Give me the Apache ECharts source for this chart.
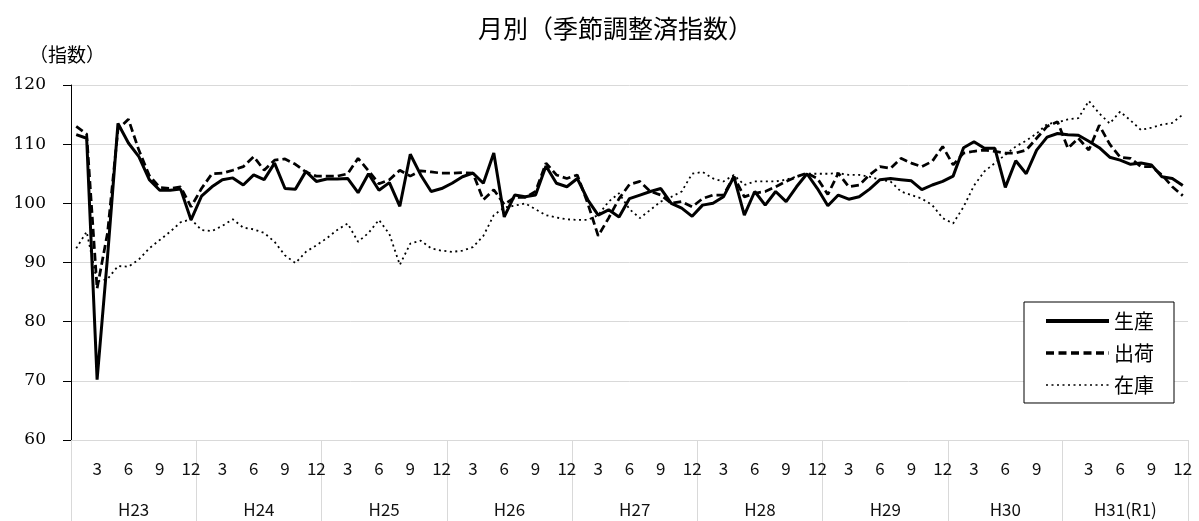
<!DOCTYPE html>
<html>
<head>
<meta charset="utf-8">
<script src="https://cdn.jsdelivr.net/npm/echarts@6/dist/echarts.min.js"></script>
<style>html,body{margin:0;padding:0;background:#fff;}#c{width:1199px;height:521px;}</style>
</head>
<body>
<div id="c"></div>
<script>
const years = ['H23','H24','H25','H26','H27','H28','H29','H30','H31(R1)'];
const monthsInYear = [12,12,12,12,12,12,12,11,12];
const labeledMonths = [3,6,9,12];
const yTicks = [60,70,80,90,100,110,120];
const seriesNames = ['生産','出荷','在庫'];

const production = [
  111.6,111.0,70.2,91.0,113.5,110.2,107.9,104.0,102.2,102.2,102.4,97.2,
  101.2,102.8,104.0,104.3,103.1,104.8,104.0,106.8,102.5,102.4,105.4,103.7,
  104.1,104.1,104.2,101.8,105.0,102.2,103.5,99.5,108.3,104.8,102.0,102.5,
  103.4,104.5,105.1,103.4,108.5,97.7,101.4,101.1,101.4,106.3,103.4,102.8,
  104.2,100.6,98.0,98.9,97.7,100.8,101.4,102.0,102.5,100.0,99.2,97.8,
  99.7,100.0,101.1,104.5,98.0,102.0,99.7,102.0,100.3,102.8,105.0,102.5,
  99.6,101.4,100.7,101.1,102.4,104.0,104.2,104.0,103.8,102.3,103.1,103.7,
  104.6,109.4,110.4,109.3,109.3,102.7,107.2,105.0,109.0,111.2,111.8,
  111.6,111.5,110.5,109.4,107.8,107.3,106.6,106.8,106.5,104.5,104.2,103.0
];
const shipments = [
  113.0,111.7,85.6,95.0,112.5,114.2,109.0,104.7,102.7,102.5,102.8,99.4,
  102.5,105.0,105.1,105.6,106.2,107.9,105.6,107.3,107.5,106.6,105.3,104.6,
  104.6,104.6,105.0,107.6,105.5,103.3,104.0,105.6,104.6,105.5,105.3,105.1,
  105.1,105.2,105.1,100.6,102.3,99.8,101.0,101.0,102.0,106.8,104.8,104.2,
  104.8,100.0,94.5,97.5,100.8,103.2,103.7,102.0,101.4,100.0,100.3,99.4,
  100.8,101.4,101.4,104.5,101.1,101.7,102.0,102.8,103.7,104.5,105.1,104.2,
  101.5,105.1,102.8,103.1,104.8,106.2,105.9,107.6,106.8,106.2,107.1,109.6,
  106.5,108.5,108.8,109.0,108.8,108.5,108.5,109.0,111.0,113.0,113.8,
  109.3,111.0,109.0,113.2,110.0,107.8,107.6,106.2,106.2,104.8,102.8,101.3
];
const inventory = [
  92.4,95.2,86.8,87.2,89.4,89.3,90.5,92.4,93.8,95.2,96.8,97.3,
  95.5,95.3,96.2,97.3,95.9,95.6,95.0,93.5,91.2,89.9,91.8,92.9,
  94.1,95.5,96.6,93.5,95.0,97.2,94.8,89.6,93.2,93.7,92.4,92.0,
  91.8,92.0,92.6,94.5,98.0,99.3,99.6,100.0,99.0,98.0,97.6,97.3,
  97.2,97.2,98.0,100.3,101.7,99.0,97.5,98.9,100.3,101.1,102.0,105.0,
  105.3,104.2,103.7,104.8,103.1,103.7,103.7,103.7,104.0,104.5,105.0,105.0,
  105.0,105.1,104.8,104.8,104.5,104.0,103.7,102.0,101.4,100.8,99.7,97.5,
  96.6,99.4,103.0,105.4,106.8,108.2,109.6,110.6,111.8,113.4,113.7,
  114.2,114.4,117.3,115.2,113.5,115.5,114.0,112.4,112.8,113.3,113.6,115.0
];

const categories = years.flatMap((y, i) =>
  Array.from({length: monthsInYear[i]}, (_, j) => y + '|' + (j + 1)));
const total = categories.length;
const bounds = [0];
monthsInYear.forEach(n => bounds.push(bounds[bounds.length - 1] + n));
const centers = monthsInYear.map((n, i) => bounds[i] + n / 2);

const cjk = '"Noto Sans CJK JP", "Noto Sans", sans-serif';
const lineStyles = [
  {color: '#000', width: 3, type: 'solid'},
  {color: '#000', width: 2.75, type: [8, 4]},
  {color: '#000', width: 1.8, type: [2, 3.5]}
];
const legendLineStyles = [
  {color: '#000', width: 4, type: 'solid'},
  {color: '#000', width: 3.5, type: [8, 4.5]},
  {color: '#000', width: 1.5, type: [2, 3.5]}
];
const chart = echarts.init(document.getElementById('c'), null, {renderer: 'canvas'});
chart.setOption({
  animation: false,
  backgroundColor: '#fff',
  title: {
    text: '月別（季節調整済指数）',
    left: 473, top: 11,
    textStyle: {fontSize: 25, fontWeight: 'normal', fontFamily: cjk, color: '#000'}
  },
  legend: {
    orient: 'vertical',
    left: 1024, top: 302,
    padding: [9, 20, 8, 20],
    itemWidth: 63, itemHeight: 14, itemGap: 12,
    borderColor: '#000', borderWidth: 1,
    backgroundColor: '#fff',
    data: seriesNames.map((n, i) => ({name: n, lineStyle: legendLineStyles[i]})),
    itemStyle: {color: 'rgba(0,0,0,0)', borderWidth: 0, opacity: 0},
    textStyle: {fontSize: 20, fontFamily: cjk, color: '#000'}
  },
  grid: {left: 71, right: 11, top: 85, bottom: 81},
  xAxis: [
    {
      type: 'category',
      data: categories,
      boundaryGap: true,
      axisLine: {lineStyle: {color: '#d9d9d9', width: 1}},
      axisTick: {show: false},
      axisLabel: {
        interval: 0, margin: 20,
        fontSize: 17, fontFamily: cjk, color: '#111',
        formatter: v => {
          const m = +v.split('|')[1];
          return labeledMonths.includes(m) ? String(m) : '';
        }
      },
      splitLine: {show: false}
    },
    {
      type: 'value',
      min: 0, max: total,
      position: 'bottom',
      axisLine: {show: false},
      splitLine: {show: false},
      axisTick: {show: true, customValues: bounds, length: 85, lineStyle: {color: '#d9d9d9', width: 1}},
      axisLabel: {
        customValues: centers, margin: 61,
        fontSize: 17, fontFamily: cjk, color: '#111',
        formatter: v => {
          const i = centers.findIndex(c => Math.abs(c - v) < 0.01);
          return i >= 0 ? years[i] : '';
        }
      }
    }
  ],
  yAxis: {
    type: 'value',
    min: yTicks[0], max: yTicks[yTicks.length - 1], interval: yTicks[1] - yTicks[0],
    name: '（指数）',
    nameLocation: 'end',
    nameGap: 21,
    nameTextStyle: {fontSize: 19, fontFamily: cjk, color: '#000', align: 'center', padding: [0, 8, 0, 0]},
    axisLine: {show: true, lineStyle: {color: '#000', width: 1}},
    axisTick: {show: true, length: 8, lineStyle: {color: '#000'}},
    axisLabel: {margin: 25, fontSize: 17, fontFamily: '"DejaVu Serif", serif', color: '#000'},
    splitLine: {lineStyle: {color: '#d9d9d9', width: 1}}
  },
  series: seriesNames.map((n, i) => ({
    name: n, type: 'line',
    data: [production, shipments, inventory][i],
    symbol: 'none',
    lineStyle: lineStyles[i],
    itemStyle: {color: '#000'}
  }))
});
</script>
</body>
</html>
